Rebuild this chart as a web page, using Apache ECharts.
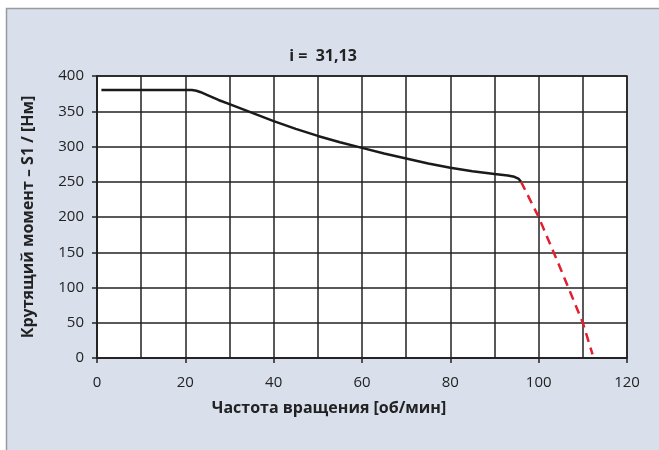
<!DOCTYPE html>
<html><head><meta charset="utf-8">
<script src="https://cdn.jsdelivr.net/npm/echarts@6/dist/echarts.min.js"></script>
<style>html,body{margin:0;padding:0;background:#fff}#c{width:659px;height:450px}</style>
</head><body><div id="c"></div>
<script>
const titleText = 'i =  31,13';
const xName = 'Частота вращения [об/мин]';
const yName = 'Крутящий момент – S1 / [Нм]';
const torqueS1 = [[1,380],[21.5,380],[22.5,379],[23.5,377],[25,373],[27.5,366],[30,360],[35,348],[40,336],[45,325],[50,315],[55,306],[60,298],[65,290],[70,283],[75,276],[80,270],[85,265],[90,261],[93,259],[94.5,257],[95.5,254],[96,250]];
const torqueLimit = [[96,250],[100,200],[105,126],[110,50],[112.2,5]];

const chart = echarts.init(document.getElementById('c'));
const FONT = 'Open Sans';
chart.setOption({
  animation: false,
  backgroundColor: '#fff',
  graphic: [{type:'rect', z:-10, shape:{x:6.5,y:8.5,width:700,height:500}, style:{fill:'#d9e0ec', stroke:'#9a9a9a', lineWidth:1.5}}],
  title: {text: titleText, left: 318, top: 43, textAlign:'center',
    textStyle:{fontFamily:FONT, fontSize:16, fontWeight:'bold', color:'#222'}},
  grid: {left:97, right:32, top:76, bottom:92, show:true, backgroundColor:'#fff', borderColor:'#222', borderWidth:1.5},
  xAxis: {type:'value', min:0, max:120, interval:20,
    name:xName, nameLocation:'middle', nameGap:42,
    nameTextStyle:{fontFamily:FONT, fontSize:16, fontWeight:'bold', color:'#222', padding:[0,66,0,0]},
    axisLine:{show:true, lineStyle:{color:'#222', width:1.5}},
    axisTick:{show:true, length:5, lineStyle:{color:'#222', width:1.5}},
    axisLabel:{fontFamily:FONT, fontSize:15, color:'#222', margin:17},
    splitLine:{show:true, lineStyle:{color:'#222', width:1.5}},
    minorTick:{show:false, splitNumber:2},
    minorSplitLine:{show:true, lineStyle:{color:'#222', width:1.5}}
  },
  yAxis: {type:'value', min:0, max:400, interval:50,
    name:yName, nameLocation:'middle', nameGap:61,
    nameTextStyle:{fontFamily:FONT, fontSize:16, fontWeight:'bold', color:'#222'},
    axisLine:{show:true, lineStyle:{color:'#222', width:1.5}},
    axisTick:{show:true, length:5, lineStyle:{color:'#222', width:1.5}},
    axisLabel:{fontFamily:FONT, fontSize:15, color:'#222', margin:13},
    splitLine:{show:true, lineStyle:{color:'#222', width:1.5}}
  },
  series: [
    {type:'line', data:torqueS1, showSymbol:false, lineStyle:{color:'#1a1a1a', width:2.5}},
    {type:'line', data:torqueLimit, showSymbol:false, lineStyle:{color:'#e02030', width:2.5, type:[9,6]}}
  ]
});
</script></body></html>
